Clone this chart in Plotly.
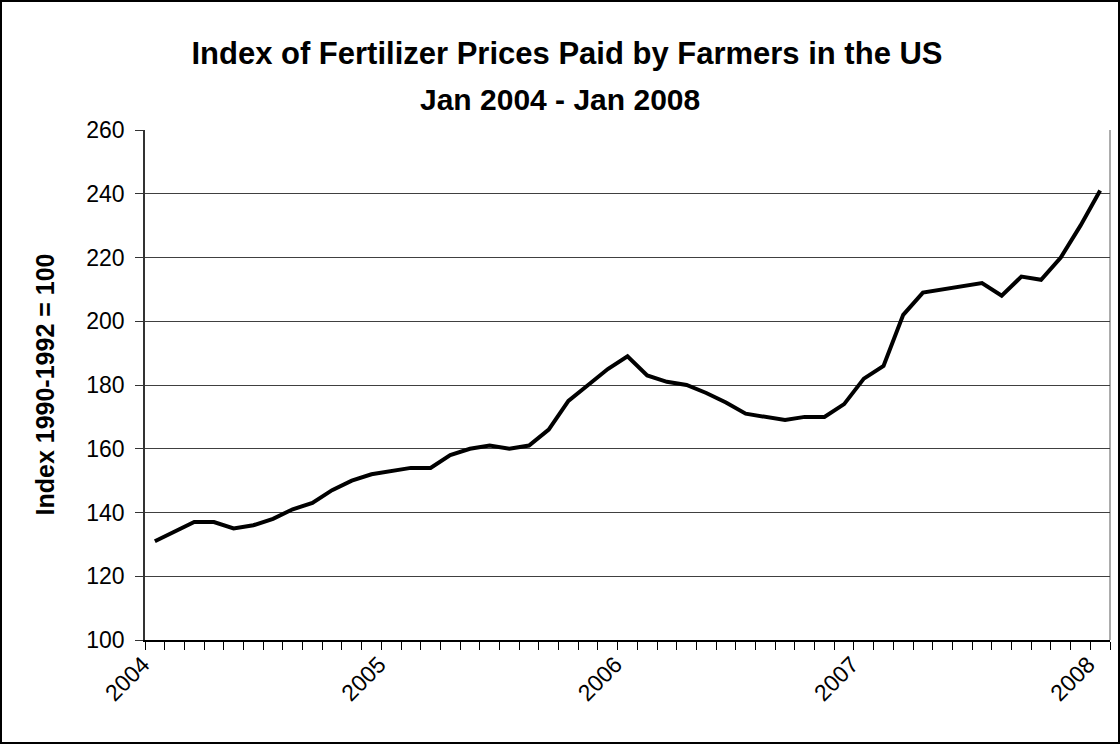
import plotly.graph_objects as go

# ---- data ----
months = [
    "Jan 2004", "Feb 2004", "Mar 2004", "Apr 2004", "May 2004", "Jun 2004",
    "Jul 2004", "Aug 2004", "Sep 2004", "Oct 2004", "Nov 2004", "Dec 2004",
    "Jan 2005", "Feb 2005", "Mar 2005", "Apr 2005", "May 2005", "Jun 2005",
    "Jul 2005", "Aug 2005", "Sep 2005", "Oct 2005", "Nov 2005", "Dec 2005",
    "Jan 2006", "Feb 2006", "Mar 2006", "Apr 2006", "May 2006", "Jun 2006",
    "Jul 2006", "Aug 2006", "Sep 2006", "Oct 2006", "Nov 2006", "Dec 2006",
    "Jan 2007", "Feb 2007", "Mar 2007", "Apr 2007", "May 2007", "Jun 2007",
    "Jul 2007", "Aug 2007", "Sep 2007", "Oct 2007", "Nov 2007", "Dec 2007",
    "Jan 2008",
]
index_values = [
    131, 134, 137, 137, 135, 136, 138, 141, 143, 147, 150, 152,
    153, 154, 154, 158, 160, 161, 160, 161, 166, 175, 180, 185,
    189, 183, 181, 180, 177.5, 174.5, 171, 170, 169, 170, 170, 174,
    182, 186, 202, 209, 210, 211, 212, 208, 214, 213, 220, 230,
    241,
]
year_labels = ["2004", "2005", "2006", "2007", "2008"]
year_months = ["Jan 2004", "Jan 2005", "Jan 2006", "Jan 2007", "Jan 2008"]
y_ticks = [100, 120, 140, 160, 180, 200, 220, 240, 260]

title_line1 = "Index of Fertilizer Prices Paid by Farmers in the US"
title_line2 = "Jan 2004 - Jan 2008"
y_title = "Index 1990-1992 = 100"

# ---- layout geometry (pixels) ----
W, H = 1120, 744
L, R, T, B = 145, 1110, 130, 640
PW, PH = R - L, B - T
FONT = "Liberation Sans, Arial, sans-serif"


def px_x(px):
    return (px - L) / PW


def px_y(py):
    return (B - py) / PH


xpos = list(range(len(months)))
year_pos = [months.index(m) for m in year_months]

fig = go.Figure()
fig.add_trace(go.Scatter(
    x=xpos, y=index_values, mode="lines",
    line=dict(color="black", width=4),
    text=months, hoverinfo="text+y", showlegend=False,
))

fig.update_layout(
    width=W, height=H,
    margin=dict(l=L, r=W - R, t=T, b=H - B, autoexpand=False),
    paper_bgcolor="white", plot_bgcolor="white",
    font=dict(family=FONT, color="black"),
    title=dict(
        text="<b>%s</b>" % title_line1,
        x=567 / W, xref="container", xanchor="center",
        y=1 - 53.5 / H, yref="container", yanchor="middle",
        font=dict(size=31, family=FONT, color="black"),
    ),
    showlegend=False,
)

fig.update_xaxes(
    range=[-0.5, len(months) - 0.5],
    tickmode="array", tickvals=year_pos, ticktext=year_labels,
    tickangle=-45, ticks="", ticklabelstandoff=0, ticklabelshift=-12,
    tickfont=dict(size=23, family=FONT, color="black"),
    showgrid=False, zeroline=False,
    showline=True, linecolor="black", linewidth=2,
    minor=dict(
        tickmode="array",
        tickvals=[i - 0.5 for i in range(len(months) + 1)],
        ticks="outside", ticklen=8, tickwidth=1, tickcolor="black",
        showgrid=False,
    ),
    fixedrange=True,
)

fig.update_yaxes(
    range=[100, 260],
    tickmode="array", tickvals=y_ticks,
    ticks="outside", ticklen=8, tickwidth=1, tickcolor="#333333",
    ticklabelstandoff=6,
    tickfont=dict(size=23, family=FONT, color="black"),
    showgrid=True, gridcolor="#404040", gridwidth=1,
    zeroline=False,
    showline=True, linecolor="#333333", linewidth=1.5,
    fixedrange=True,
)

# plot-area right border (gray)
fig.add_shape(type="line", xref="paper", yref="paper",
              x0=1, x1=1, y0=0, y1=1,
              line=dict(color="#909090", width=1.5), layer="below")

# outer chart frame
fig.add_shape(type="rect", xref="paper", yref="paper",
              x0=px_x(1), x1=px_x(W - 1), y0=px_y(H - 1), y1=px_y(1),
              line=dict(color="black", width=2), fillcolor="rgba(0,0,0,0)")

# second title line
fig.add_annotation(
    text="<b>%s</b>" % title_line2,
    xref="paper", yref="paper", x=px_x(560), y=px_y(99),
    xanchor="center", yanchor="middle", showarrow=False,
    font=dict(size=30, family=FONT, color="black"),
)

# y-axis title
fig.add_annotation(
    text="<b>%s</b>" % y_title,
    xref="paper", yref="paper", x=px_x(44.5), y=0.5,
    xanchor="center", yanchor="middle", textangle=-90, showarrow=False,
    font=dict(size=25, family=FONT, color="black"),
)

fig.write_html(
    "out.html",
    config={"displayModeBar": False},
    post_script="document.body.style.margin='0px';document.body.style.overflow='hidden';",
)
